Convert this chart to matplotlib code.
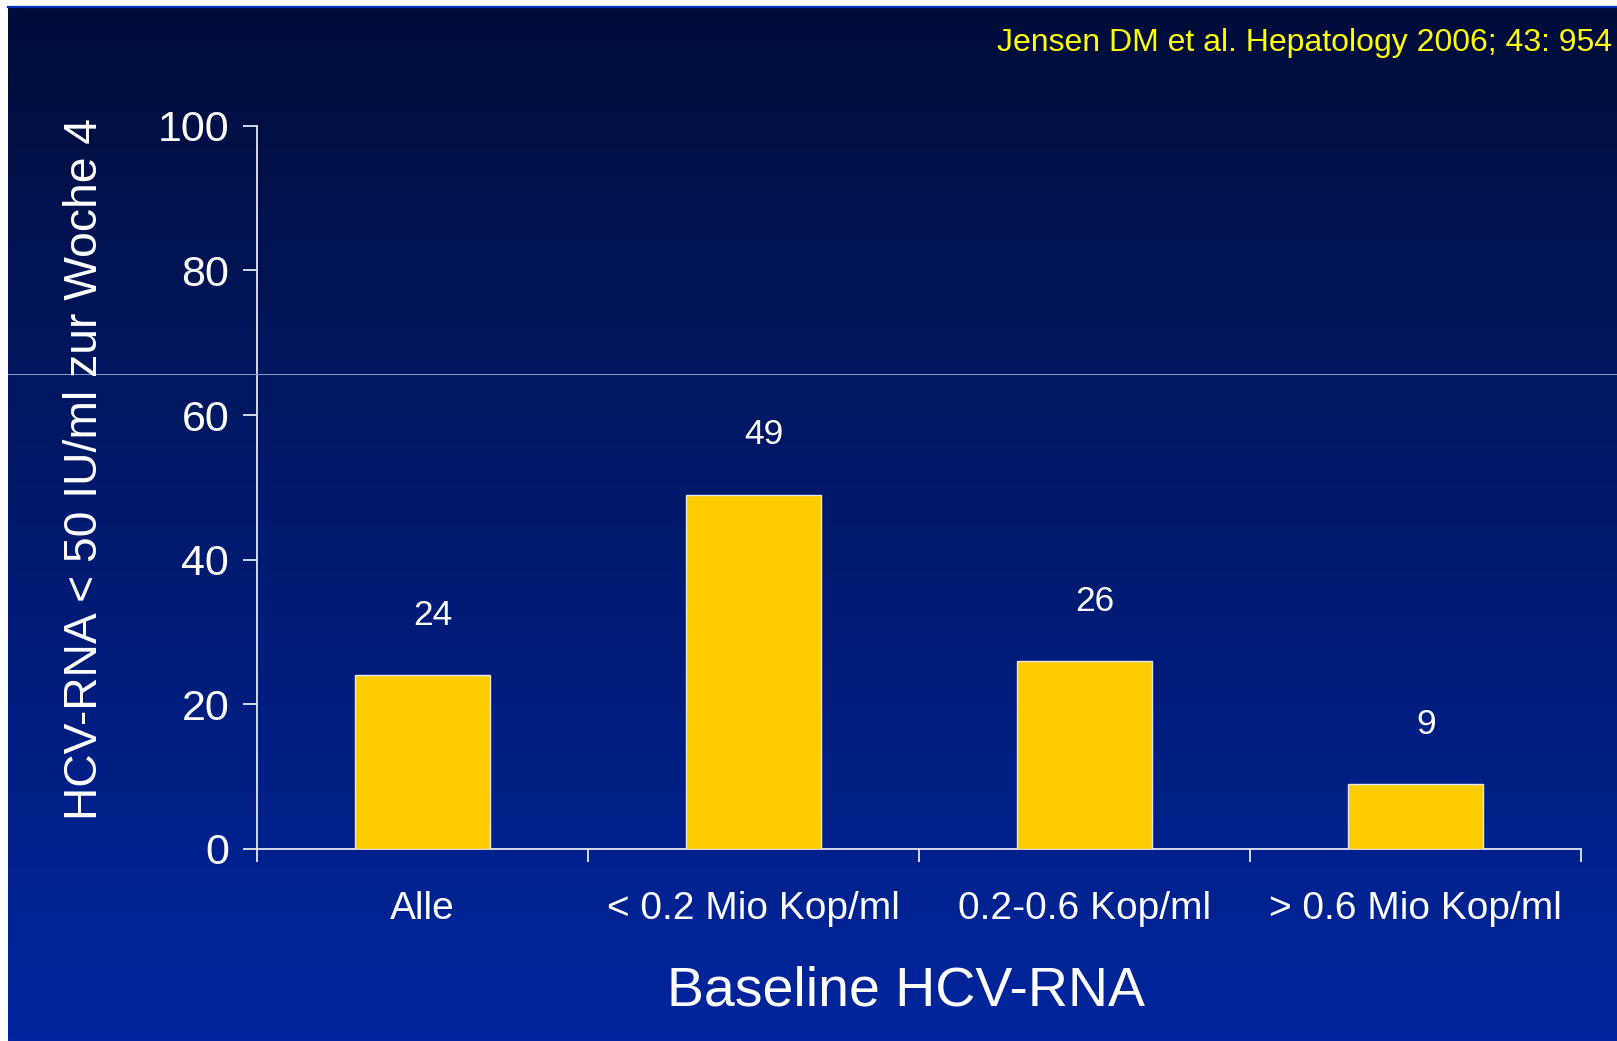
import numpy as np
import matplotlib
matplotlib.use("Agg")
import matplotlib.pyplot as plt
from matplotlib.colors import LinearSegmentedColormap
from matplotlib.lines import Line2D

plt.rcParams['font.family'] = ['Liberation Sans', 'DejaVu Sans']

categories = ["Alle", "< 0.2 Mio Kop/ml", "0.2-0.6 Kop/ml", "> 0.6 Mio Kop/ml"]
values = [24, 49, 26, 9]
y_ticks = [0, 20, 40, 60, 80, 100]
x_title = "Baseline HCV-RNA"
y_title = "HCV-RNA < 50 IU/ml zur Woche 4"
citation = "Jensen DM et al. Hepatology 2006; 43: 954"

W, H = 1617, 1041
fig = plt.figure(figsize=(W / 100, H / 100), dpi=100)
fig.patch.set_facecolor("white")

# gradient background
bg = fig.add_axes([8 / W, 0, 1 - 8 / W, (H - 8) / H])
cmap = LinearSegmentedColormap.from_list("bgc", ["#000D3A", "#001A6E", "#00259E"])
grad = np.linspace(0, 1, 256).reshape(-1, 1)
bg.imshow(grad, aspect="auto", cmap=cmap, extent=[0, 1, 0, 1], origin="upper")
bg.set_axis_off()

# top blue line and seam line
fig.add_artist(Line2D([8 / W, 1], [1 - 7 / H, 1 - 7 / H], transform=fig.transFigure,
                      color="#0030C0", lw=1.6))
fig.add_artist(Line2D([8 / W, 1], [1 - 374 / H, 1 - 374 / H], transform=fig.transFigure,
                      color="#8794C4", lw=0.8))

left, right = 257 / W, 1581 / W
bottom, top = 1 - 849 / H, 1 - 125.7 / H
ax = fig.add_axes([left, bottom, right - left, top - bottom])
ax.set_facecolor("none")

x = np.arange(len(categories)) + 0.5
bars = ax.bar(x, values, width=0.41, color="#FFCC00", edgecolor="#E8E8F0", linewidth=1.0, zorder=3)

for xi, v in zip(x, values):
    ax.annotate(str(v), xy=(xi, v), xytext=(7.5, 43), textcoords="offset points",
                ha="center", va="center", color="white", fontsize=25.5)

ax.set_xlim(0, len(categories))
ax.set_ylim(0, 100)
ax.set_yticks(y_ticks)
ax.set_yticklabels([str(t) for t in y_ticks])
ax.set_xticks(np.arange(len(categories) + 1))
ax.set_xticklabels([])
ax.set_xticks(x, minor=True)
ax.set_xticklabels(categories, minor=True)

spine_col = "#E8E8F0"
for s in ["top", "right"]:
    ax.spines[s].set_visible(False)
for s in ["left", "bottom"]:
    ax.spines[s].set_color(spine_col)
    ax.spines[s].set_linewidth(1.3)

ax.tick_params(axis="y", direction="out", length=10, width=1.3, colors=spine_col,
               labelcolor="white", labelsize=31, pad=10)
ax.tick_params(axis="x", which="major", direction="out", length=9.5, width=1.3, colors=spine_col)
ax.tick_params(axis="x", which="minor", length=0, labelcolor="white", labelsize=28, pad=30.5)

fig.text(906 / W, 1 - 992 / H, x_title, ha="center", va="center", color="white", fontsize=40)
fig.text(85 / W, 1 - 469 / H, y_title, ha="center", va="center", rotation=90,
         color="white", fontsize=33.3)
fig.text(1612 / W, 1 - 43 / H, citation, ha="right", va="center", color="#FFFF00", fontsize=23)

fig.savefig("out.png", dpi=100, facecolor=fig.get_facecolor())
